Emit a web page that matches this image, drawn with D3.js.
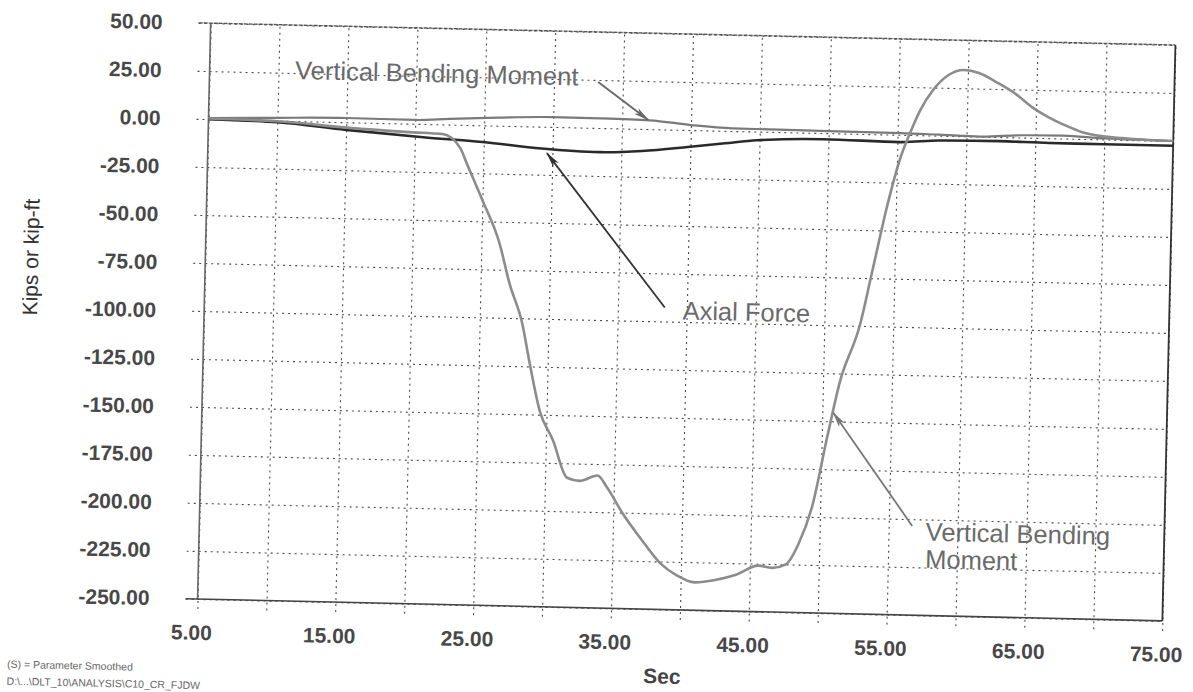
<!DOCTYPE html>
<html>
<head>
<meta charset="utf-8">
<script src="https://cdn.jsdelivr.net/npm/d3@7"></script>
<style>
  body { margin: 0; background: #fff; }
  svg { display: block; }
  .grid line { stroke: #4a4a4a; stroke-width: 1.1; stroke-dasharray: 2,4; }
  .grid .domain { display: none; }
  .ticklab text { font-family: "Liberation Sans", Arial, sans-serif; font-weight: bold; font-size: 21px; fill: #484848; }
  .ticklab .domain { display: none; }
  .note { font-family: "Liberation Sans", Arial, sans-serif; font-size: 25.5px; fill: #6a6a6a; }
</style>
</head>
<body>
<svg id="chart" width="1193" height="692"></svg>
<script>
// values (Sec, Kips or kip-ft)
const yTicks = [50, 25, 0, -25, -50, -75, -100, -125, -150, -175, -200, -225, -250];
const xGrid = [5, 10, 15, 20, 25, 30, 35, 40, 45, 50, 55, 60, 65, 70, 75];
const xLabels = [5, 15, 25, 35, 45, 55, 65, 75];

// big vertical bending moment curve
const bendingMoment = [
  [5, 0.3], [10, -0.3], [15, -2.8], [19.6, -4.4], [22, -5], [23.3, -12], [23.8, -20],
  [25, -39], [26.3, -61], [27.1, -82], [28.1, -103], [28.7, -123.5], [29.5, -148],
  [30.5, -163], [31.6, -182.5], [32.5, -184], [33.8, -181], [34.5, -187], [35.7, -200.6],
  [37, -213], [38.5, -226], [39.7, -232], [41, -235.5], [42.5, -234], [44, -231],
  [45.6, -226], [46.6, -227], [47.6, -225], [48.5, -214], [49.4, -195], [50.4, -158],
  [51.2, -130], [52.6, -99], [53.4, -71], [54.4, -36], [55.2, -13], [55.9, 1],
  [56.6, 13], [57.5, 23.7], [58.6, 31.7], [59.7, 34.5], [60.8, 33.1], [62.2, 28.1],
  [63.4, 23.1], [64.7, 16], [65.9, 11], [67.1, 7], [68.4, 3.5], [69.8, 1.7],
  [71.3, 0.9], [73.2, 0.2], [75, 0]
];

// small bending moment trace near zero
const bendingSmall = [
  [5, 0.5], [10, 1.5], [15, 2.2], [20, 2], [22.5, 3], [26, 4.2], [30, 5.1], [33.4, 5],
  [37, 4.6], [40, 2.6], [43, 1.4], [47.7, 1.2], [52, 1], [55.2, 0.9], [58, 0.5],
  [61, 0], [64, 1.2], [67, 1.5], [70, 0.5], [75, 0]
];

const axialForce = [
  [5, 0], [10, -0.8], [15, -4], [20.6, -6.9], [24.9, -8.7], [29.2, -11.4], [33.4, -12.6],
  [36.5, -11.5], [39.8, -8.9], [42.5, -6.5], [44.8, -4.5], [49.6, -3.2], [55.2, -3.8],
  [58, -2.5], [62.4, -2.1], [66, -2.5], [70, -2.5], [75, -2.5]
];

// annotation texts and arrows (data coordinates)
const notes = [
  { text: "Vertical Bending Moment", t: 11.2, v: 21.9 },
  { text: "Axial Force", t: 39.7, v: -98.7 },
  { text: "Vertical Bending", t: 57.7, v: -211 },
  { text: "Moment", t: 57.7, v: -225.2 }
];
const arrows = [
  { from: [33.2, 23.9], to: [36.9, 4.7], color: "#666" },
  { from: [38.4, -92.7], to: [29.6, -13.7], color: "#333" },
  { from: [56.7, -203.5], to: [50.8, -145.5], color: "#777" }
];

const frame = { left: 204, top: 34, width: 965, height: 576 };

const svg = d3.select("#chart");

// scanned page is turned a little, so the whole sheet is rotated
const sheet = svg.append("g").attr("transform", "rotate(1.3,686.5,322)");
const plot = sheet.append("g").attr("transform", `translate(${frame.left},${frame.top})`);

const x = d3.scaleLinear().domain([5, 75]).range([0, frame.width]);
const y = d3.scaleLinear().domain([-250, 50]).range([frame.height, 0]);

const defs = svg.append("defs");
arrows.forEach((a, i) => {
  defs.append("marker")
    .attr("id", "head" + i)
    .attr("viewBox", "0 0 16 8")
    .attr("refX", 15).attr("refY", 4)
    .attr("markerWidth", 16).attr("markerHeight", 8)
    .attr("markerUnits", "userSpaceOnUse")
    .attr("orient", "auto")
    .append("path")
    .attr("d", "M0,0.5 L16,4 L0,7.5 L4,4 Z")
    .attr("fill", a.color);
});

// grid
plot.append("g").attr("class", "grid")
  .attr("transform", "translate(-12,0)")
  .call(d3.axisLeft(y).tickValues(yTicks).tickSize(-(frame.width + 12)).tickFormat(""));

plot.append("g").attr("class", "grid")
  .attr("transform", `translate(0,${frame.height + 10})`)
  .call(d3.axisBottom(x).tickValues(xGrid).tickSize(-(frame.height + 10)).tickFormat(""));

// frame
const border = plot.append("g").attr("fill", "none");
border.append("line")
  .attr("x1", x(5)).attr("x2", x(5)).attr("y1", y(50)).attr("y2", y(-250))
  .attr("stroke", "#666").attr("stroke-width", 1.6);
border.append("line")
  .attr("x1", x(5) - 12).attr("x2", x(75)).attr("y1", y(-250)).attr("y2", y(-250))
  .attr("stroke", "#444").attr("stroke-width", 1.6);
border.append("line")
  .attr("x1", x(75)).attr("x2", x(75)).attr("y1", y(50)).attr("y2", y(-250))
  .attr("stroke", "#333").attr("stroke-width", 1.8);
border.append("line")
  .attr("x1", x(5) - 12).attr("x2", x(75)).attr("y1", y(50)).attr("y2", y(50))
  .attr("stroke", "#555").attr("stroke-width", 1.4).attr("stroke-dasharray", "4,1");

// tick labels
plot.append("g").attr("class", "ticklab")
  .call(d3.axisLeft(y).tickValues(yTicks).tickSize(0).tickPadding(48)
    .tickFormat(d => d.toFixed(2)));

plot.append("g").attr("class", "ticklab")
  .attr("transform", `translate(-6,${frame.height})`)
  .call(d3.axisBottom(x).tickValues(xLabels).tickSize(0).tickPadding(26)
    .tickFormat(d => d.toFixed(2)));

// series
const line = d3.line()
  .x(d => x(d[0]))
  .y(d => y(d[1]))
  .curve(d3.curveMonotoneX);

plot.append("path").datum(bendingSmall)
  .attr("fill", "none").attr("stroke", "#7a7a7a").attr("stroke-width", 2.2)
  .attr("d", line);
plot.append("path").datum(axialForce)
  .attr("fill", "none").attr("stroke", "#2a2a2a").attr("stroke-width", 2.6)
  .attr("d", line);
plot.append("path").datum(bendingMoment)
  .attr("fill", "none").attr("stroke", "#8c8c8c").attr("stroke-width", 2.6)
  .attr("d", line);

// annotations
plot.selectAll(".arrow").data(arrows).join("line")
  .attr("class", "arrow")
  .attr("x1", d => x(d.from[0])).attr("y1", d => y(d.from[1]))
  .attr("x2", d => x(d.to[0])).attr("y2", d => y(d.to[1]))
  .attr("stroke", d => d.color).attr("stroke-width", 1.8)
  .attr("marker-end", (d, i) => `url(#head${i})`);

plot.selectAll(".note").data(notes).join("text")
  .attr("class", "note")
  .attr("x", d => x(d.t)).attr("y", d => y(d.v))
  .text(d => d.text);

// axis titles
sheet.append("text")
  .attr("transform", "translate(37,272) rotate(-90)")
  .attr("text-anchor", "middle")
  .style("font-family", "Liberation Sans, Arial, sans-serif")
  .style("font-size", "21px").style("fill", "#333")
  .text("Kips or kip-ft");

sheet.append("text")
  .attr("x", 670).attr("y", 684)
  .attr("text-anchor", "middle")
  .style("font-family", "Liberation Sans, Arial, sans-serif")
  .style("font-weight", "bold")
  .style("font-size", "21px").style("fill", "#444")
  .text("Sec");

// footnotes
const foot = sheet.append("g")
  .style("font-family", "Liberation Sans, Arial, sans-serif")
  .style("font-size", "10.5px").style("fill", "#666");
foot.append("text").attr("x", 15).attr("y", 683).text("(S) = Parameter Smoothed");
foot.append("text").attr("x", 15).attr("y", 700).text("D:\\...\\DLT_10\\ANALYSIS\\C10_CR_FJDW");
</script>
</body>
</html>
